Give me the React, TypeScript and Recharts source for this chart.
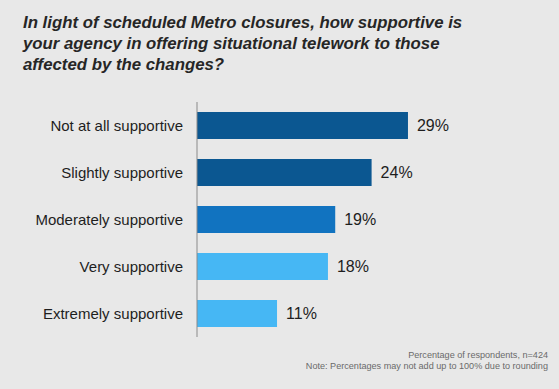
import React from "react";
import { BarChart, Bar, XAxis, YAxis, Cell, LabelList } from "recharts";

const categories = [
  "Not at all supportive",
  "Slightly supportive",
  "Moderately supportive",
  "Very supportive",
  "Extremely supportive",
];
const values = [29, 24, 19, 18, 11];
const colors = ["#0b5791", "#0b5791", "#1173c0", "#46b7f4", "#46b7f4"];
const titleLines = [
  "In light of scheduled Metro closures, how supportive is",
  "your agency in offering situational telework to those",
  "affected by the changes?",
];
const footnotes = [
  "Percentage of respondents, n=424",
  "Note: Percentages may not add up to 100% due to rounding",
];

const data = categories.map((c, i) => ({ name: c, value: values[i], color: colors[i] }));

export default function App() {
  return (
    <div
      style={{
        position: "absolute",
        left: 0,
        top: 0,
        width: 559,
        height: 389,
        background: "#e8e8e8",
        fontFamily: "'Liberation Sans', Arial, sans-serif",
        overflow: "hidden",
      }}
    >
      <div
        style={{
          position: "absolute",
          left: 23,
          top: 12,
          fontSize: 16.8,
          lineHeight: "21px",
          fontWeight: "bold",
          fontStyle: "italic",
          color: "#262626",
          whiteSpace: "nowrap",
        }}
      >
        {titleLines.map((l, i) => (
          <div key={i}>{l}</div>
        ))}
      </div>
      <div style={{ position: "absolute", left: 0, top: 0 }}>
        <BarChart
          width={559}
          height={389}
          data={data}
          layout="vertical"
          margin={{ top: 102, right: 71, bottom: 52, left: 0 }}
          barSize={27}
        >
          <XAxis type="number" domain={[0, 40]} hide />
          <YAxis
            type="category"
            dataKey="name"
            width={197}
            tickLine={false}
            tickSize={0}
            tickMargin={14}
            axisLine={{ stroke: "#8a8a8a", strokeWidth: 1 }}
            tick={{ fontSize: 15, fill: "#1e1e1e", fontFamily: "'Liberation Sans', Arial, sans-serif" }}
          />
          <Bar dataKey="value" isAnimationActive={false}>
            {data.map((d, i) => (
              <Cell key={i} fill={d.color} />
            ))}
            <LabelList
              dataKey="value"
              position="right"
              offset={9}
              formatter={(v: any) => `${v}%`}
              style={{ fontSize: 16, fill: "#1e1e1e", fontFamily: "'Liberation Sans', Arial, sans-serif" }}
            />
          </Bar>
        </BarChart>
      </div>
      <div
        style={{
          position: "absolute",
          right: 11,
          top: 350,
          fontSize: 9.1,
          lineHeight: "11px",
          color: "#6a6a6a",
          textAlign: "right",
          whiteSpace: "nowrap",
        }}
      >
        {footnotes.map((l, i) => (
          <div key={i}>{l}</div>
        ))}
      </div>
    </div>
  );
}
